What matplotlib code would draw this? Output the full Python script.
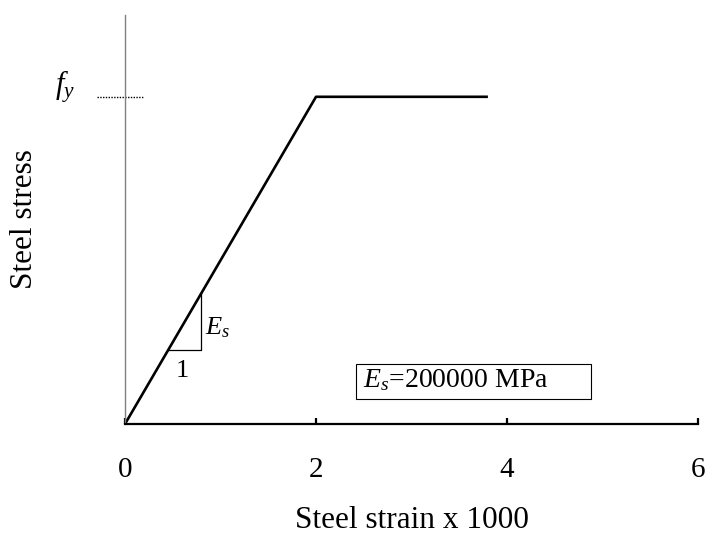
import matplotlib
matplotlib.use("Agg")
import matplotlib.pyplot as plt
from matplotlib.patches import Rectangle

plt.rcParams['font.family'] = ['Liberation Serif', 'DejaVu Serif']
plt.rcParams['mathtext.fontset'] = 'custom'
plt.rcParams['mathtext.rm'] = 'Liberation Serif'
plt.rcParams['mathtext.it'] = 'Liberation Serif:italic'

# Data
strain = [0, 2.0, 3.8]          # strain x 1000
stress = [0, 400, 400]          # MPa (fy = Es * 0.002)
fy = 400
tri_x = [0.45, 0.80, 0.80]
tri_y = [90, 90, 160]
xticks = [0, 2, 4, 6]

fig = plt.figure(figsize=(7.07, 5.4), dpi=100)
ax = fig.add_axes([125/707, 1-424/540, (698-125)/707, (424-15)/540])

ax.plot(strain, stress, color='black', lw=1.9, solid_capstyle='butt', clip_on=False)
# slope triangle
ax.plot(tri_x, tri_y, color='black', lw=0.9)
# fy dotted marker
ax.plot([-0.29, 0.2], [fy, fy], color='black', lw=1.0, ls=(0, (1, 1)), clip_on=False)

ax.set_xlim(0, 6)
ax.set_ylim(0, 500)
ax.set_xticks(xticks)
ax.set_yticks([])
for s in ['top', 'right']:
    ax.spines[s].set_visible(False)
ax.spines['left'].set_color('#808080')
ax.spines['left'].set_linewidth(1.0)
ax.spines['bottom'].set_color('black')
ax.spines['bottom'].set_linewidth(1.6)
ax.tick_params(axis='x', direction='in', length=4.5, width=1.6, pad=24, labelsize=21)

ax.set_xlabel('Steel strain x 1000', fontsize=22.5, labelpad=16)
ax.set_ylabel('Steel stress', fontsize=22.5, labelpad=62)

ax.text(-0.73, 412, r'$f_y$', fontsize=22, ha='left', va='center', clip_on=False)
ax.text(0.84, 118, r'$E_s$', fontsize=19, ha='left', va='center')
ax.text(0.60, 65, '1', fontsize=19, ha='center', va='center')

ax.add_patch(Rectangle((2.42, 30.6), 2.46, 42.7, fill=False, ec='black', lw=0.8))
ax.text(2.49, 53, r'$E_s$=200000 MPa', fontsize=20, ha='left', va='center')

fig.savefig('out.png', dpi=100)
